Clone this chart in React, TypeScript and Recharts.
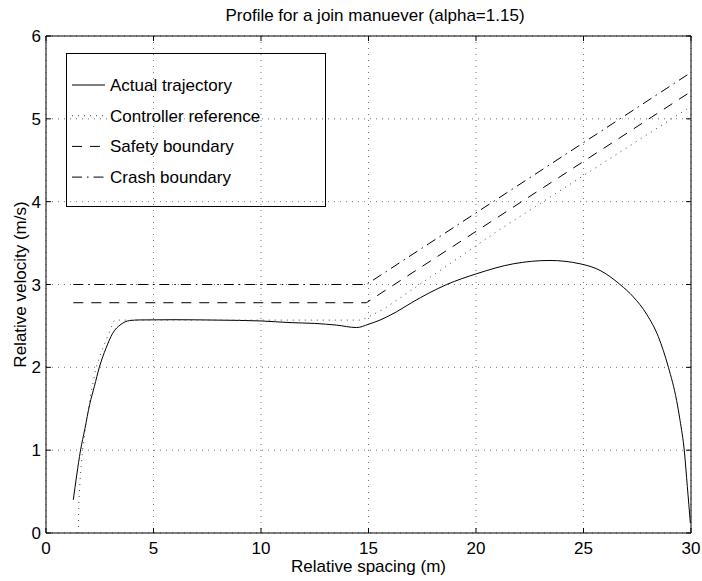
import React from "react";
import {
  ComposedChart,
  Line,
  XAxis,
  YAxis,
  CartesianGrid,
  ReferenceArea,
  Legend,
} from "recharts";

// ---------- data ----------
const X_TICKS = [0, 5, 10, 15, 20, 25, 30];
const Y_TICKS = [0, 1, 2, 3, 4, 5, 6];

const actualSpacing = [
  1.27, 1.43, 1.6, 1.81, 2.03, 2.25, 2.48, 2.79, 3.1, 3.49, 3.88, 4.34, 6, 8,
  10, 11.35, 12.5, 13.5, 14.45, 15.0, 15.53, 16.3, 17.0, 18.64, 20.03, 21.74,
  23.44, 24.84, 25.77, 26.7, 27.32, 27.94, 28.48, 28.95, 29.33, 29.49, 29.69,
  29.83, 29.97,
];
const actualVelocity = [
  0.4, 0.7, 0.99, 1.26, 1.55, 1.77, 2.0, 2.23, 2.41, 2.52, 2.564, 2.572,
  2.575, 2.57, 2.56, 2.54, 2.53, 2.51, 2.48, 2.52, 2.57, 2.67, 2.78, 3.0,
  3.13, 3.25, 3.29, 3.25, 3.17, 3.0, 2.85, 2.64, 2.37, 2.0, 1.6, 1.36, 0.99,
  0.56, 0.12,
];

const controllerSpacing = [
  1.5, 1.53, 1.6, 1.7, 1.9, 2.1, 2.33, 2.6, 2.87, 3.18, 14.68, 15.0, 15.72,
  21.08, 30,
];
const controllerVelocity = [
  0, 0.4, 0.7, 1.0, 1.4, 1.7, 2.0, 2.2, 2.38, 2.57, 2.57, 2.61, 2.705, 3.66,
  5.15,
];

const safetySpacing = [1.27, 14.9, 30];
const safetyVelocity = [2.78, 2.78, 5.33];

const crashSpacing = [1.27, 14.9, 30];
const crashVelocity = [3.0, 3.0, 5.56];

const toPoints = (xs: number[], ys: number[]) =>
  xs.map((s, i) => ({ s, v: ys[i] }));

// ---------- layout ----------
const W = 702;
const H = 581;
const MARGIN = { top: 36, right: 11, bottom: 0, left: 0 };
const Y_AXIS_W = 46;
const X_AXIS_H = 48;
const PLOT_LEFT = MARGIN.left + Y_AXIS_W;
const PLOT_RIGHT = W - MARGIN.right;
const PLOT_TOP = MARGIN.top;
const PLOT_BOTTOM = H - MARGIN.bottom - X_AXIS_H;
const FONT = '"Liberation Sans", Arial, Helvetica, sans-serif';
const FS = 17;
const TICK_LEN = 5;

const SERIES = [
  {
    key: "actual",
    name: "Actual trajectory",
    data: toPoints(actualSpacing, actualVelocity),
    dash: undefined as string | undefined,
    color: "#000",
    type: "monotone" as const,
  },
  {
    key: "controller",
    name: "Controller reference",
    data: toPoints(controllerSpacing, controllerVelocity),
    dash: "1 5",
    color: "#444",
    type: "linear" as const,
  },
  {
    key: "safety",
    name: "Safety boundary",
    data: toPoints(safetySpacing, safetyVelocity),
    dash: "10 8",
    color: "#000",
    type: "linear" as const,
  },
  {
    key: "crash",
    name: "Crash boundary",
    data: toPoints(crashSpacing, crashVelocity),
    dash: "10 5 1.5 5",
    color: "#000",
    type: "linear" as const,
  },
];

const XTick = (props: any) => {
  const { x, y, payload } = props;
  return (
    <g>
      <line x1={x} x2={x} y1={PLOT_BOTTOM} y2={PLOT_BOTTOM - TICK_LEN} stroke="#000" />
      <line x1={x} x2={x} y1={PLOT_TOP} y2={PLOT_TOP + TICK_LEN} stroke="#000" />
      <text
        x={x}
        y={y}
        dy="0.71em"
        textAnchor="middle"
        fill="#000"
        fontSize={FS}
        fontFamily={FONT}
      >
        {payload.value}
      </text>
    </g>
  );
};

const YTick = (props: any) => {
  const { x, y, payload } = props;
  return (
    <g>
      <line x1={PLOT_LEFT} x2={PLOT_LEFT + TICK_LEN} y1={y} y2={y} stroke="#000" />
      <line x1={PLOT_RIGHT - TICK_LEN} x2={PLOT_RIGHT} y1={y} y2={y} stroke="#000" />
      <text
        x={x}
        y={y}
        dy="0.355em"
        textAnchor="end"
        fill="#000"
        fontSize={FS}
        fontFamily={FONT}
      >
        {payload.value}
      </text>
    </g>
  );
};

const LEGEND_W = 260;
const LEGEND_H = 154;

const LegendBox = () => (
  <svg width={LEGEND_W} height={LEGEND_H} style={{ display: "block" }}>
    <rect
      x={0.5}
      y={0.5}
      width={LEGEND_W - 1}
      height={LEGEND_H - 1}
      fill="none"
      stroke="#000"
    />
    {SERIES.map((s, i) => {
      const cy = 32 + i * 30.7;
      return (
        <g key={s.key}>
          <line
            x1={6}
            x2={39}
            y1={cy}
            y2={cy}
            stroke={s.color}
            strokeDasharray={s.dash}
          />
          <text
            x={44}
            y={cy}
            dy="0.355em"
            fontSize={FS}
            fontFamily={FONT}
            fill="#000"
          >
            {s.name}
          </text>
        </g>
      );
    })}
  </svg>
);

export default function App() {
  return (
    <div style={{ position: "relative", width: W, height: H, background: "#fff" }}>
      <style>{"body{margin:0;background:#fff}"}</style>
      <ComposedChart width={W} height={H} margin={MARGIN}>
        <CartesianGrid
          stroke="#777"
          strokeDasharray="1 5"
          horizontalValues={Y_TICKS}
          verticalValues={X_TICKS}
        />
        <XAxis
          dataKey="s"
          type="number"
          domain={[0, 30]}
          ticks={X_TICKS}
          allowDataOverflow
          height={X_AXIS_H}
          tickLine={false}
          axisLine={false}
          tickSize={0}
          tickMargin={9}
          tick={<XTick />}
          interval={0}
          label={{
            value: "Relative spacing (m)",
            position: "insideBottom",
            offset: 9,
            fill: "#000",
            fontSize: FS,
            fontFamily: FONT,
          }}
        />
        <YAxis
          type="number"
          domain={[0, 6]}
          ticks={Y_TICKS}
          allowDataOverflow
          width={Y_AXIS_W}
          tickLine={false}
          axisLine={false}
          tickSize={0}
          tickMargin={5}
          tick={<YTick />}
          interval={0}
          label={{
            value: "Relative velocity (m/s)",
            angle: -90,
            position: "insideLeft",
            offset: 20,
            fill: "#000",
            fontSize: FS,
            fontFamily: FONT,
            style: { textAnchor: "middle" },
          }}
        />
        {SERIES.map((s) => (
          <Line
            key={s.key}
            data={s.data}
            dataKey="v"
            name={s.name}
            type={s.type}
            stroke={s.color}
            strokeWidth={1}
            strokeDasharray={s.dash}
            dot={false}
            activeDot={false}
            isAnimationActive={false}
            legendType="line"
          />
        ))}
        <ReferenceArea
          x1={0}
          x2={30}
          y1={0}
          y2={6}
          fill="none"
          stroke="#000"
          strokeWidth={1}
          ifOverflow="visible"
        />
        <Legend
          layout="vertical"
          align="center"
          verticalAlign="middle"
          content={() => <LegendBox />}
          wrapperStyle={{
            position: "absolute",
            left: 66,
            top: 53,
            width: LEGEND_W,
            height: LEGEND_H,
          }}
        />
      </ComposedChart>
      <svg
        width={W}
        height={32}
        style={{ position: "absolute", left: 0, top: 0, pointerEvents: "none" }}
      >
        <text
          x={375}
          y={21}
          textAnchor="middle"
          fontSize={FS}
          fontFamily={FONT}
          fill="#000"
        >
          Profile for a join manuever (alpha=1.15)
        </text>
      </svg>
    </div>
  );
}
